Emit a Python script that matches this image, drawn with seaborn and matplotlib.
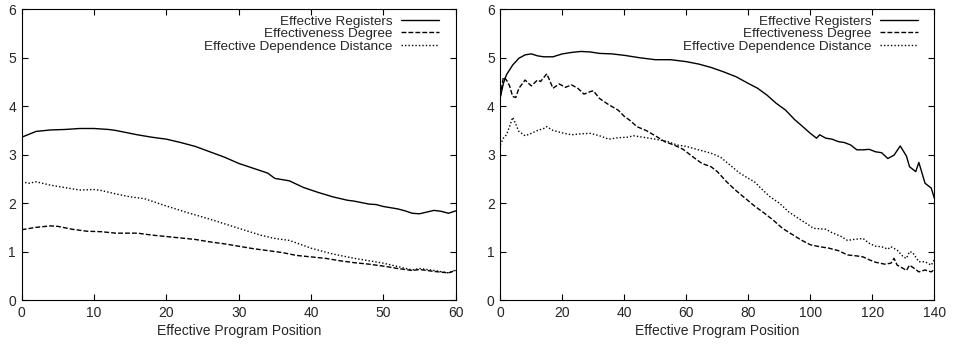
import numpy as np
import pandas as pd
import matplotlib
matplotlib.use("Agg")
import matplotlib.pyplot as plt
import seaborn as sns

# ---------------- data ----------------
# Left panel
L_reg_x = [0, 2, 4, 6, 8, 10, 12, 13, 16, 18, 20, 22, 24, 26, 28, 30, 32, 34, 35, 37, 39, 41, 43, 45, 46, 48, 49, 50, 52, 53, 54, 55, 57, 58, 59, 60]
L_reg_y = [3.36, 3.48, 3.51, 3.52, 3.54, 3.54, 3.52, 3.50, 3.41, 3.36, 3.32, 3.25, 3.17, 3.06, 2.95, 2.82, 2.72, 2.62, 2.51, 2.46, 2.32, 2.22, 2.13, 2.06, 2.04, 1.98, 1.97, 1.93, 1.88, 1.84, 1.79, 1.78, 1.85, 1.83, 1.79, 1.84]

L_deg_x = [0, 2, 4, 5, 7, 9, 11, 13, 16, 18, 20, 22, 24, 26, 28, 30, 32, 34, 36, 38, 40, 42, 44, 46, 48, 50, 52, 54, 55, 57, 59, 60]
L_deg_y = [1.45, 1.50, 1.53, 1.52, 1.46, 1.42, 1.41, 1.38, 1.38, 1.34, 1.31, 1.28, 1.25, 1.20, 1.16, 1.11, 1.06, 1.02, 0.98, 0.92, 0.89, 0.86, 0.81, 0.77, 0.74, 0.70, 0.65, 0.61, 0.63, 0.59, 0.56, 0.61]

L_dist_x = [0, 1, 2, 4, 6, 8, 10, 11, 13, 15, 17, 20, 23, 26, 30, 33, 35, 37, 40, 43, 46, 48, 50, 52, 54, 55, 57, 59, 60]
L_dist_y = [2.44, 2.41, 2.44, 2.37, 2.32, 2.27, 2.28, 2.26, 2.19, 2.13, 2.09, 1.94, 1.80, 1.67, 1.48, 1.34, 1.27, 1.23, 1.07, 0.95, 0.86, 0.81, 0.76, 0.69, 0.62, 0.65, 0.61, 0.56, 0.62]

# Right panel
R_reg_x = [0, 1, 2, 4, 6, 8, 10, 12, 14, 17, 20, 23, 26, 29, 32, 36, 40, 45, 50, 55, 60, 64, 68, 72, 76, 80, 83, 86, 89, 92, 95, 97, 100, 102, 103, 105, 107, 109, 111, 113, 115, 117, 119, 121, 123, 125, 127, 129, 131, 132, 134, 135, 137, 139, 140]
R_reg_y = [4.18, 4.47, 4.65, 4.85, 4.99, 5.06, 5.08, 5.04, 5.02, 5.02, 5.08, 5.11, 5.13, 5.12, 5.09, 5.08, 5.05, 5.00, 4.96, 4.96, 4.92, 4.87, 4.80, 4.71, 4.61, 4.47, 4.37, 4.23, 4.06, 3.92, 3.72, 3.61, 3.44, 3.34, 3.41, 3.34, 3.32, 3.27, 3.25, 3.20, 3.10, 3.10, 3.11, 3.06, 3.04, 2.92, 2.99, 3.18, 2.97, 2.75, 2.65, 2.84, 2.41, 2.31, 2.10]

R_deg_x = [0, 1, 2, 3, 4, 5, 6, 8, 10, 12, 13, 15, 17, 19, 21, 23, 25, 27, 29, 30, 32, 35, 38, 40, 42, 44, 47, 50, 53, 56, 59, 62, 65, 68, 70, 73, 76, 79, 82, 85, 88, 91, 94, 97, 100, 103, 106, 109, 112, 115, 117, 119, 121, 124, 126, 127, 128, 130, 131, 132, 134, 135, 137, 139, 140]
R_deg_y = [4.20, 4.60, 4.54, 4.42, 4.20, 4.18, 4.37, 4.54, 4.42, 4.54, 4.51, 4.67, 4.37, 4.46, 4.39, 4.44, 4.37, 4.25, 4.30, 4.32, 4.16, 4.03, 3.92, 3.79, 3.70, 3.58, 3.50, 3.39, 3.27, 3.20, 3.11, 2.96, 2.82, 2.75, 2.65, 2.44, 2.26, 2.10, 1.94, 1.80, 1.65, 1.48, 1.36, 1.24, 1.14, 1.10, 1.07, 1.02, 0.93, 0.91, 0.89, 0.83, 0.78, 0.74, 0.76, 0.86, 0.72, 0.65, 0.61, 0.72, 0.63, 0.58, 0.62, 0.58, 0.63]

R_dist_x = [0, 1, 2, 3, 4, 5, 6, 8, 10, 12, 14, 15, 17, 20, 23, 26, 29, 32, 35, 38, 41, 43, 46, 50, 54, 57, 60, 64, 68, 71, 74, 77, 80, 82, 84, 87, 90, 93, 96, 99, 101, 105, 107, 110, 112, 114, 117, 119, 121, 123, 125, 126, 128, 130, 131, 132, 133, 135, 137, 139, 140]
R_dist_y = [3.20, 3.34, 3.41, 3.58, 3.77, 3.63, 3.48, 3.39, 3.44, 3.50, 3.54, 3.58, 3.50, 3.45, 3.41, 3.43, 3.44, 3.39, 3.32, 3.35, 3.36, 3.39, 3.36, 3.32, 3.27, 3.20, 3.17, 3.10, 3.03, 2.95, 2.79, 2.63, 2.51, 2.44, 2.31, 2.13, 2.00, 1.82, 1.69, 1.57, 1.48, 1.46, 1.39, 1.31, 1.23, 1.25, 1.27, 1.17, 1.11, 1.10, 1.05, 1.10, 1.03, 0.89, 0.86, 1.00, 0.98, 0.79, 0.79, 0.72, 0.83]

series_names = ["Effective Registers", "Effectiveness Degree", "Effective Dependence Distance"]
left_xticks = [0, 10, 20, 30, 40, 50, 60]
right_xticks = [0, 20, 40, 60, 80, 100, 120, 140]
yticks = [0, 1, 2, 3, 4, 5, 6]
xlabel = "Effective Program Position"

# ---------------- plotting ----------------
sns.set_style("ticks")
plt.rcParams["font.family"] = ["Liberation Sans", "DejaVu Sans"]
plt.rcParams["font.size"] = 10

fig = plt.figure(figsize=(9.54, 3.45), dpi=100)
axL = fig.add_axes([0.0227, 0.1304, 0.4550, 0.8426])
axR = fig.add_axes([0.5244, 0.1304, 0.4550, 0.8426])

styles = ["-", (0, (3.5, 1.5)), (0, (1, 1.5))]

def draw(ax, data, xmax, xticks):
    for (xs, ys), name, ls in zip(data, series_names, styles):
        df = pd.DataFrame({"x": xs, "y": ys})
        sns.lineplot(data=df, x="x", y="y", ax=ax, color="black",
                     linewidth=1.0, linestyle=ls, label=name)
    ax.set_xlim(0, xmax)
    ax.set_ylim(0, 6)
    ax.set_xticks(xticks)
    ax.set_yticks(yticks)
    ax.set_xlabel(xlabel, fontsize=10, labelpad=3)
    ax.set_ylabel("")
    ax.tick_params(direction="in", length=4, width=0.8, top=True, right=True,
                   labelsize=10, pad=4, color="black")
    for s in ax.spines.values():
        s.set_linewidth(0.8)
        s.set_color("black")
    leg = ax.legend(loc="upper right", bbox_to_anchor=(1 - 0.0385, 1 - 0.0206),
                    frameon=False, markerfirst=False,
                    handlelength=2.8, handletextpad=0.65, labelspacing=0.0,
                    borderaxespad=0.0, borderpad=0.0, fontsize=9.7)
    for line in leg.get_lines():
        line.set_linewidth(1.0)

draw(axL, [(L_reg_x, L_reg_y), (L_deg_x, L_deg_y), (L_dist_x, L_dist_y)], 60, left_xticks)
draw(axR, [(R_reg_x, R_reg_y), (R_deg_x, R_deg_y), (R_dist_x, R_dist_y)], 140, right_xticks)

fig.savefig("out.png", dpi=100)
